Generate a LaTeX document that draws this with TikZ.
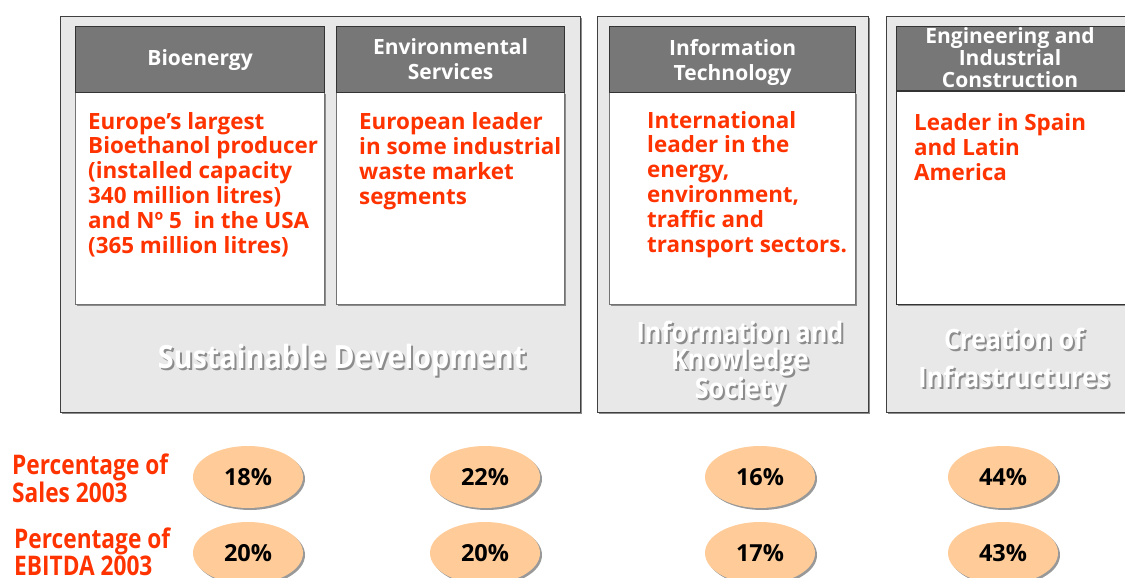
\documentclass[tikz,border=0pt]{standalone}
\usepackage{fontspec}
\setmainfont{Open Sans}
\newfontfamily\condfont[FakeStretch=0.84]{Open Sans}
\newfontfamily\titlefont[FakeStretch=0.9]{Open Sans}
\usetikzlibrary{shadows,shapes.geometric}
\definecolor{headgray}{HTML}{777777}
\definecolor{groupgray}{HTML}{E8E8E8}
\definecolor{claimred}{HTML}{FF3300}
\definecolor{peach}{HTML}{FFCC99}
\tikzset{
  thinshadow/.style = {drop shadow={shadow xshift=2pt,shadow yshift=-2pt,fill=black!45,opacity=1}},
  group/.style = {draw=black!75, fill=groupgray, thick, thinshadow, anchor=north west, inner sep=0pt},
  body/.style = {draw=black!55, fill=white, thinshadow, anchor=north west, inner sep=0pt},
  head/.style = {draw=black!80, fill=headgray, very thick, text=white, align=center,
    font=\bfseries\fontsize{21}{25}\selectfont, anchor=north west, inner sep=0pt},
  claim/.style = {text=claimred, align=left, anchor=base west, inner sep=0pt,
    font=\bfseries\fontsize{22.4}{24.8}\selectfont},
  sector/.style = {align=center, inner sep=0pt, font=\titlefont\bfseries\fontsize{32}{27.5}\selectfont},
  smallsector/.style = {font=\titlefont\bfseries\fontsize{28}{27.5}\selectfont}
}
\tikzset{
  share/.style = {ellipse, fill=peach, minimum width=110pt, minimum height=62pt, inner sep=0pt,
    drop shadow={shadow xshift=2pt,shadow yshift=-2pt,fill=black!40,opacity=1},
    font=\bfseries\fontsize{23.5}{26}\selectfont},
  rowlabel/.style = {text=claimred, align=left, anchor=west, inner sep=0pt,
    font=\condfont\bfseries\fontsize{27}{26}\selectfont}
}
% white sector title with a grey shadow under it
\newcommand{\sectortitle}[4][]{%
  \node[sector,#1,text=black!45] (#2s) at ([shift={(2,2)}]#3) {#4};
  \node[sector,#1,text=white] (#2) at (#3) {#4};}

\begin{document}
\begin{tikzpicture}[x=1pt,y=-1pt]
  \useasboundingbox (0,0) rectangle (1125,578);
  % business groups
  \node[group, minimum width=520pt, minimum height=396pt] (sustain) at (60,16) {};
  \node[group, minimum width=271pt, minimum height=396pt] (knowledge) at (597,16) {};
  \node[group, minimum width=250pt, minimum height=396pt] (infra) at (886,16) {};
  % activity boxes
  \node[body, minimum width=249pt, minimum height=212pt] (bioBody) at (75,92) {};
  \node[head, minimum width=249pt, minimum height=66pt] (bioHead) at (75,26) {Bioenergy};
  \node[body, minimum width=228pt, minimum height=212pt] (envBody) at (336,92) {};
  \node[head, minimum width=228pt, minimum height=66pt] (envHead) at (336,26) {Environmental\\Services};
  \node[body, minimum width=246pt, minimum height=212pt] (itBody) at (609,92) {};
  \node[head, minimum width=246pt, minimum height=66pt] (itHead) at (609,26) {};
  \node[text=white, align=center, inner sep=0pt, font=\bfseries\fontsize{21}{25}\selectfont]
    (itText) at ([yshift=-3pt]itHead.center) {Information\\Technology};
  \node[body, minimum width=229pt, minimum height=214pt, draw=black!80, thick] (engBody) at (896,90) {};
  \node[head, minimum width=229pt, minimum height=64pt] (engHead) at (896,26) {};
  \node[text=white, align=center, anchor=base, inner sep=0pt,
    font=\bfseries\fontsize{21}{22}\selectfont] (engText) at (1010,88)
    {Engineering and\\Industrial\\Construction};
  \draw[black!80, very thick] (engHead.south west) -- (engHead.south east);
  % claims
  \node[claim] (bioClaim) at (88,253) {Europe’s largest\\Bioethanol producer\\(installed capacity\\340 million litres)\\and Nº 5 ~in the USA\\(365 million litres)};
  \node[claim] (envClaim) at (359,204) {European leader\\in some industrial\\waste market\\segments};
  \node[claim] (itClaim) at (647,252) {International\\leader in the\\energy,\\environment,\\traffic and\\transport sectors.};
  \node[claim] (engClaim) at (914,180) {Leader in Spain\\and Latin\\America};
  % sector titles
  \sectortitle{sustainTitle}{342,360}{Sustainable Development}
  \sectortitle[smallsector]{knowTitle}{740,363}{Information and\\Knowledge\\Society}
  \sectortitle[smallsector]{infraTitle}{1014,358}{Creation of\\[10pt]Infrastructures}
  % shares
  \node[rowlabel] (salesLabel) at (12,478) {Percentage of\\Sales 2003};
  \node[rowlabel] (ebitdaLabel) at (14,552) {Percentage of\\EBITDA 2003};
  \foreach \x/\s/\e [count=\i] in {248/18/20, 485/22/20, 760/16/17, 1003/44/43} {
    \node[share] (sales\i) at (\x,477) {\s\%};
    \node[share] (ebitda\i) at (\x,553) {\e\%};
  }
\end{tikzpicture}
\end{document}
